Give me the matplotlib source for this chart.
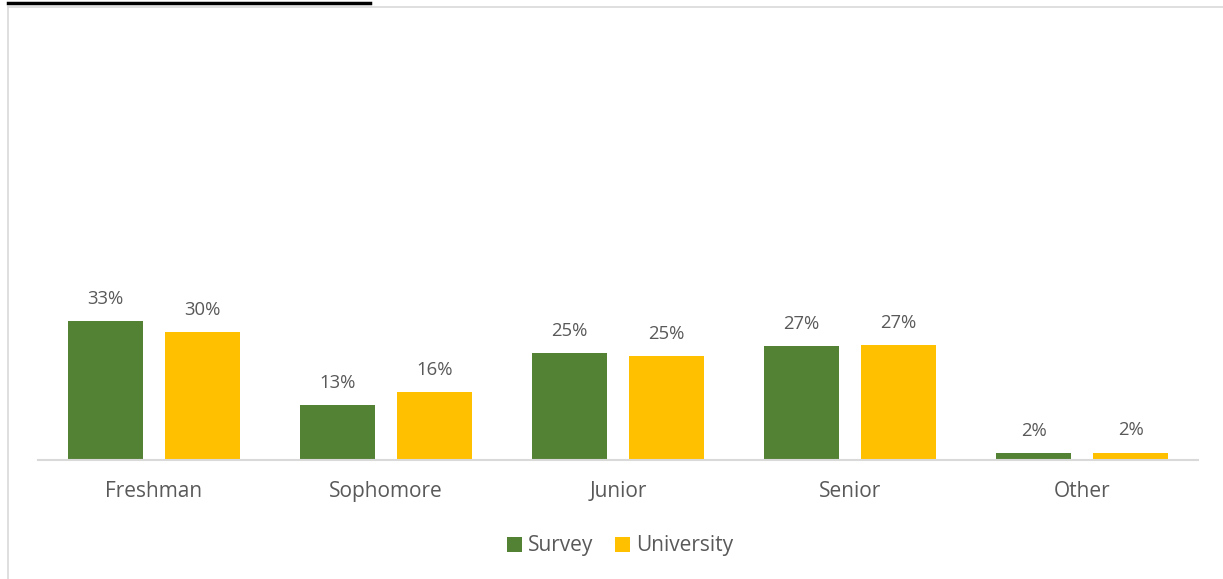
import matplotlib
matplotlib.use('Agg')
import matplotlib.pyplot as plt
from matplotlib.lines import Line2D
import numpy as np

categories = ['Freshman', 'Sophomore', 'Junior', 'Senior', 'Other']
survey = [33.0, 13.1, 25.4, 27.1, 1.6]
university = [30.4, 16.2, 24.7, 27.3, 1.7]
series_names = ['Survey', 'University']
colors = ['#548235', '#FFC000']
text_color = '#595959'

plt.rcParams['font.family'] = ['Open Sans', 'DejaVu Sans']

fig = plt.figure(figsize=(12.23, 5.79), dpi=100)
ax = fig.add_axes([0.0311, 0.2055, 0.9485, 0.7254])

x = np.arange(len(categories))
w = 0.327
b1 = ax.bar(x - 0.209, survey, w, color=colors[0], label=series_names[0])
b2 = ax.bar(x + 0.209, university, w, color=colors[1], label=series_names[1])

for bars, vals in ((b1, survey), (b2, university)):
    for bar, v in zip(bars, vals):
        ax.text(bar.get_x() + bar.get_width() / 2, v + 3.2, f'{v:.0f}%',
                ha='center', va='bottom', fontsize=13.3, color=text_color)

ax.set_xlim(-0.5, 4.5)
ax.set_ylim(0, 100)
ax.set_xticks(x)
ax.set_xticklabels(categories, fontsize=15, color=text_color)
ax.tick_params(axis='x', length=0, pad=15)
ax.set_yticks([])
for s in ['top', 'right', 'left']:
    ax.spines[s].set_visible(False)
ax.spines['bottom'].set_color('#D9D9D9')
ax.spines['bottom'].set_linewidth(1.5)

leg = fig.legend(loc='center', bbox_to_anchor=(0.507, 0.057), ncol=2, frameon=False,
                 fontsize=15, handlelength=0.75, handleheight=0.75, columnspacing=1.0,
                 handletextpad=0.3)
for t in leg.get_texts():
    t.set_color(text_color)

# chart border and the underline above it
fig.add_artist(Line2D([8 / 1223, 8 / 1223], [0, 1 - 7 / 579], color='#D9D9D9', lw=1.2))
fig.add_artist(Line2D([8 / 1223, 1], [1 - 7 / 579, 1 - 7 / 579], color='#D9D9D9', lw=1.2))
fig.add_artist(Line2D([8 / 1223, 370 / 1223], [1 - 2.5 / 579, 1 - 2.5 / 579], color='black', lw=2.5))

fig.savefig('out.png', dpi=100)
